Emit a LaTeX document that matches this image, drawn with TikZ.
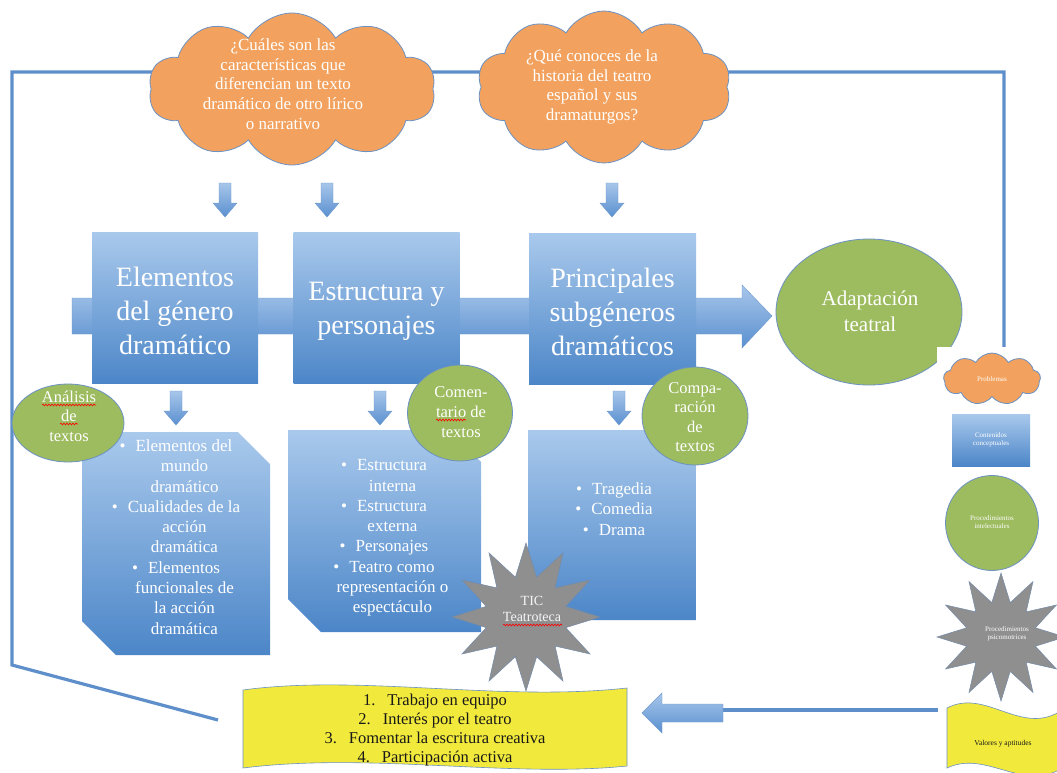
\documentclass[tikz,border=0pt]{standalone}
\usepackage{fontspec}
\setmainfont{Liberation Serif}
\usetikzlibrary{shapes.symbols,shapes.geometric,decorations.pathmorphing}
\definecolor{boxtop}{HTML}{A9C9EC}
\definecolor{boxbot}{HTML}{4C86C8}
\definecolor{arrtop}{HTML}{A7C6EA}
\definecolor{arrbot}{HTML}{5A90D0}
\definecolor{arrline}{HTML}{6E98CC}
\definecolor{orng}{HTML}{F2A25E}
\definecolor{grn}{HTML}{9DBB5F}
\definecolor{gry}{HTML}{8F8F8F}
\definecolor{yel}{HTML}{F1E93B}
\definecolor{fbline}{HTML}{5F8FCB}
\definecolor{shapeline}{HTML}{6C92C4}
\newcommand\fs[2]{\fontsize{#1}{#2}\selectfont}
\begin{document}
\begin{tikzpicture}[x=1pt,y=-1pt,
  bluebox/.style={rectangle, top color=boxtop, bottom color=boxbot, draw=none,
    minimum width=166pt, minimum height=151pt, inner sep=0pt},
  snipfill/.style={top color=boxtop, bottom color=boxbot, draw=none},
  txt/.style={text=white, align=center, inner sep=0pt},
  dtxt/.style={text=black!90, align=center, inner sep=0pt},
  qcloud/.style={cloud, cloud puffs=10, cloud puff arc=120, fill=orng, draw=shapeline, line width=0.8pt, inner sep=0pt},
  greenell/.style={ellipse, fill=grn, draw=shapeline, line width=0.8pt, inner sep=0pt},
  graystar/.style={star, star points=12, star point ratio=1.8, fill=gry, draw=shapeline!60!gray, line width=0.5pt, inner sep=0pt},
  fb/.style={draw=fbline, line width=3.2pt},
  squig/.style={draw=red, line width=0.6pt, decorate, decoration={snake, amplitude=0.9pt, segment length=3pt}},
  darrow/.pic={\shadedraw[top color=arrtop, bottom color=arrbot, draw=arrline, line width=0.4pt]
     (-6,0) -- (6,0) -- (6,20) -- (12,20) -- (0,34) -- (-12,20) -- (-6,20) -- cycle;}
]
\useasboundingbox (0,0) rectangle (1057,773);
\fill[white] (0,0) rectangle (1057,773);

% feedback line
\coordinate (fbstart) at (218,720);
\coordinate (fbcornerA) at (12,665);
\coordinate (fbcornerB) at (12,72);
\coordinate (fbcornerC) at (1004,72);
\coordinate (fbend) at (1004,350);
\draw[fb] (fbstart) -- (fbcornerA) -- (fbcornerB) -- (fbcornerC) -- (fbend);

% clouds
\node[qcloud, minimum width=287pt, minimum height=152pt] (cloudA) at (292,89) {};
\node[txt, font=\fs{17}{19.6}] (cloudAtext) at (283,84) {¿Cuáles son las\\características que\\diferencian un texto\\dramático de otro lírico\\o narrativo};
\node[qcloud, minimum width=254pt, minimum height=152pt] (cloudB) at (604,87) {};
\node[txt, font=\fs{17}{19.6}] (cloudBtext) at (592,87) {¿Qué conoces de la\\historia del teatro\\español y sus\\dramaturgos?};

% main horizontal arrow
\shadedraw[top color=arrtop, bottom color=arrbot, draw=arrline, line width=0.4pt]
  (72,298) -- (742,298) -- (742,285) -- (772,316) -- (742,348) -- (742,334) -- (72,334) -- cycle;

% title boxes
\node[bluebox] (boxA) at (175,308) {};
\node[txt, font=\fs{28}{34}] (boxAtext) at (175,311) {Elementos\\del género\\dramático};
\node[bluebox] (boxB) at (376.5,308) {};
\node[txt, font=\fs{28}{34}] (boxBtext) at (376.5,311) {Estructura y\\personajes};
\node[bluebox, minimum width=167pt] (boxC) at (612.5,309) {};
\node[txt, font=\fs{28}{34}] (boxCtext) at (612.5,312) {Principales\\subgéneros\\dramáticos};

% small down arrows
\pic at (225,183) {darrow};
\pic at (327,183) {darrow};
\pic at (612,183) {darrow};
\pic at (176,391) {darrow};
\pic at (380,391) {darrow};
\pic at (619,391) {darrow};

% content boxes (snipped corners)
\shadedraw[snipfill] (82,432) -- (238,432) -- (270,464) -- (270,655) -- (116,655) -- (82,621) -- cycle;
\node[txt, font=\fs{17}{20.3}] (boxDtext) at (176,537) {•\hspace{10pt}Elementos del\\\hspace*{17pt}mundo\\\hspace*{17pt}dramático\\•\hspace{10pt}Cualidades de la\\\hspace*{17pt}acción\\\hspace*{17pt}dramática\\•\hspace{10pt}Elementos\\\hspace*{17pt}funcionales de\\\hspace*{17pt}la acción\\\hspace*{17pt}dramática};
\shadedraw[snipfill] (288,430) -- (449,430) -- (481,462) -- (481,632) -- (321,632) -- (288,599) -- cycle;
\node[txt, font=\fs{17}{20.3}] (boxEtext) at (384,538) {•\hspace{10pt}Estructura\\\hspace*{17pt}interna\\•\hspace{10pt}Estructura\\\hspace*{17pt}externa\\•\hspace{10pt}Personajes\\•\hspace{10pt}Teatro como\\\hspace*{17pt}representación o\\\hspace*{17pt}espectáculo};
\shadedraw[snipfill] (528,430) -- (664,430) -- (696,462) -- (696,620) -- (560,620) -- (528,588) -- cycle;
\node[txt, font=\fs{17}{20.3}] (boxFtext) at (614,509) {•\hspace{10pt}Tragedia\\•\hspace{10pt}Comedia\\•\hspace{10pt}Drama};

% green circles
\node[greenell, minimum width=112pt, minimum height=78pt] (circA) at (68,423) {};
\node[txt, font=\fs{16.5}{19.5}] (circAtext) at (69,416) {Análisis\\de\\textos};
\draw[squig] (42,405) -- (96,405);
\draw[squig] (60,424) -- (78,424);
\node[greenell, minimum width=105pt, minimum height=96pt] (circB) at (460,413) {};
\node[txt, font=\fs{16.5}{20}] (circBtext) at (461,412) {Comen-\\tario de\\textos};
\draw[squig] (436,420) -- (466,420);
\node[greenell, minimum width=106pt, minimum height=98pt] (circC) at (695,416) {};
\node[txt, font=\fs{16.5}{19.5}] (circCtext) at (695,417) {Compa-\\ración\\de\\textos};

% TIC star
\node[graystar, minimum size=148pt] (tic) at (526,617) {};
\node[txt, font=\fs{14}{16}, text=white!92!gray] (tictext) at (532,609) {TIC\\Teatroteca};
\draw[squig] (503,625) -- (562,625);

% banner
\filldraw[fill=yel, draw=shapeline, line width=0.6pt]
  (243,690) .. controls (360,674) and (500,702) .. (627,688) -- (627,766)
  .. controls (510,778) and (370,752) .. (243,768) -- cycle;
\node[dtxt, font=\fs{16.5}{19}] (banner) at (435,730) {1.\hspace{12pt}Trabajo en equipo\\2.\hspace{12pt}Interés por el teatro\\3.\hspace{12pt}Fomentar la escritura creativa\\4.\hspace{12pt}Participación activa};

% adaptation ellipse
\node[greenell, minimum width=186pt, minimum height=146pt] (adapt) at (869,312) {};
\node[txt, font=\fs{21}{26}] (adapttext) at (870,311) {Adaptación\\teatral};

% legend
\fill[white] (937,347) rectangle (1057,773);
\node[qcloud, cloud puffs=9, minimum width=97pt, minimum height=52pt] (legP) at (992,379) {};
\node[txt, font=\fs{7}{8.5}] (legPtext) at (992,379) {Problemas};
\node[rectangle, top color=boxtop, bottom color=boxbot, minimum width=78pt, minimum height=52pt, inner sep=0pt] (legC) at (991,440) {};
\node[txt, font=\fs{7}{8.5}] (legCtext) at (991,440) {Contenidos\\conceptuales};
\node[greenell, minimum width=93pt, minimum height=95pt] (legI) at (992,523) {};
\node[txt, font=\fs{7}{8.5}] (legItext) at (992,522) {Procedimientos\\intelectuales};
\node[graystar, minimum size=128pt] (legS) at (1001,637) {};
\node[txt, font=\fs{7}{8.5}] (legStext) at (1007,634) {Procedimientos\\psicomotrices};
\filldraw[fill=yel, draw=shapeline, line width=0.6pt]
  (947,708) .. controls (985,688) and (1020,735) .. (1059,712) -- (1059,770)
  .. controls (1020,790) and (985,750) .. (947,768) -- cycle;
\node[dtxt, font=\fs{7.5}{9}] (legV) at (1003,744) {Valores y aptitudes};

% bottom arrow from legend to banner
\coordinate (arrstart) at (938,710);
\coordinate (arrjoin) at (723,710);
\draw[draw=fbline, line width=3.5pt] (arrstart) -- (arrjoin);
\shadedraw[top color=arrtop, bottom color=arrbot, draw=arrline, line width=0.4pt]
  (723,704) -- (662,704) -- (662,693) -- (642,713) -- (662,733) -- (662,722) -- (723,722) -- cycle;
\end{tikzpicture}
\end{document}
